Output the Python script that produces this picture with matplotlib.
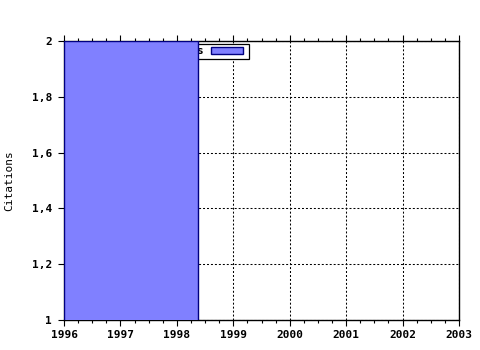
import numpy as np
import matplotlib
matplotlib.use('Agg')
import matplotlib.pyplot as plt
from matplotlib.patches import Rectangle
from matplotlib.container import BarContainer
from matplotlib.legend_handler import HandlerPatch, update_from_first_child
from matplotlib.ticker import FuncFormatter, MultipleLocator

# data
bar_left = [1996]
bar_right = [1998.37]
citations = [2]
series_label = 'Citations'
year_ticks = [1996, 1997, 1998, 1999, 2000, 2001, 2002, 2003]
value_ticks = [1, 1.2, 1.4, 1.6, 1.8, 2]

plt.rcParams['font.family'] = 'DejaVu Sans Mono'
plt.rcParams['font.weight'] = 'bold'
plt.rcParams['font.size'] = 8

fig = plt.figure(figsize=(4.8, 3.5), dpi=100)
ax = fig.add_axes([64 / 480, 30 / 350, 395 / 480, 279 / 350])

widths = np.array(bar_right) - np.array(bar_left)
ax.bar(bar_left, citations, width=widths, align='edge', bottom=0,
       color='#8080ff', edgecolor='#000080', linewidth=1.0,
       label=series_label, zorder=3)

ax.set_xlim(year_ticks[0], year_ticks[-1])
ax.set_ylim(value_ticks[0], value_ticks[-1])
ax.set_xticks(year_ticks)
ax.set_yticks(value_ticks)
ax.xaxis.set_minor_locator(MultipleLocator(0.25))

def fmt(v, pos):
    s = ('%.1f' % v).rstrip('0').rstrip('.')
    return s.replace('.', ',')

ax.yaxis.set_major_formatter(FuncFormatter(fmt))

ax.grid(True, color='black', linestyle=(0, (1.9, 1.9)), linewidth=0.75, zorder=1)
ax.set_axisbelow(True)

ax.tick_params(axis='x', which='both', direction='out', top=True,
               labeltop=False, width=0.8)
ax.tick_params(axis='x', which='major', length=4.5, pad=3)
ax.tick_params(axis='x', which='minor', length=2.5)
ax.tick_params(axis='y', which='major', direction='out', length=4.5,
               width=0.8, right=False, pad=4)
for sp in ax.spines.values():
    sp.set_linewidth(1.0)
    sp.set_color('black')

ax.set_ylabel('Citations')
ax.yaxis.set_label_coords((14 - 64) / 395, 0.5)


# legend patch a bit shorter than its slot, leaves a gap at the right border
def short_patch(legend, orig_handle, xdescent, ydescent, width, height, fontsize):
    return Rectangle((-xdescent, -ydescent), width - 3.5 * 72 / 100, height)


leg = ax.legend(loc='upper right', bbox_to_anchor=((249.5 - 64) / 395, (320 - 43.5) / 279),
                markerfirst=False, fancybox=False, framealpha=1,
                edgecolor='black', borderpad=0.25, handlelength=3.2,
                handleheight=0.55, handletextpad=0.7, borderaxespad=0,
                handler_map={BarContainer: HandlerPatch(patch_func=short_patch,
                                                        update_func=update_from_first_child)})
leg.get_frame().set_linewidth(0.9)
leg.set_zorder(2)

fig.savefig('out.png', dpi=100)
